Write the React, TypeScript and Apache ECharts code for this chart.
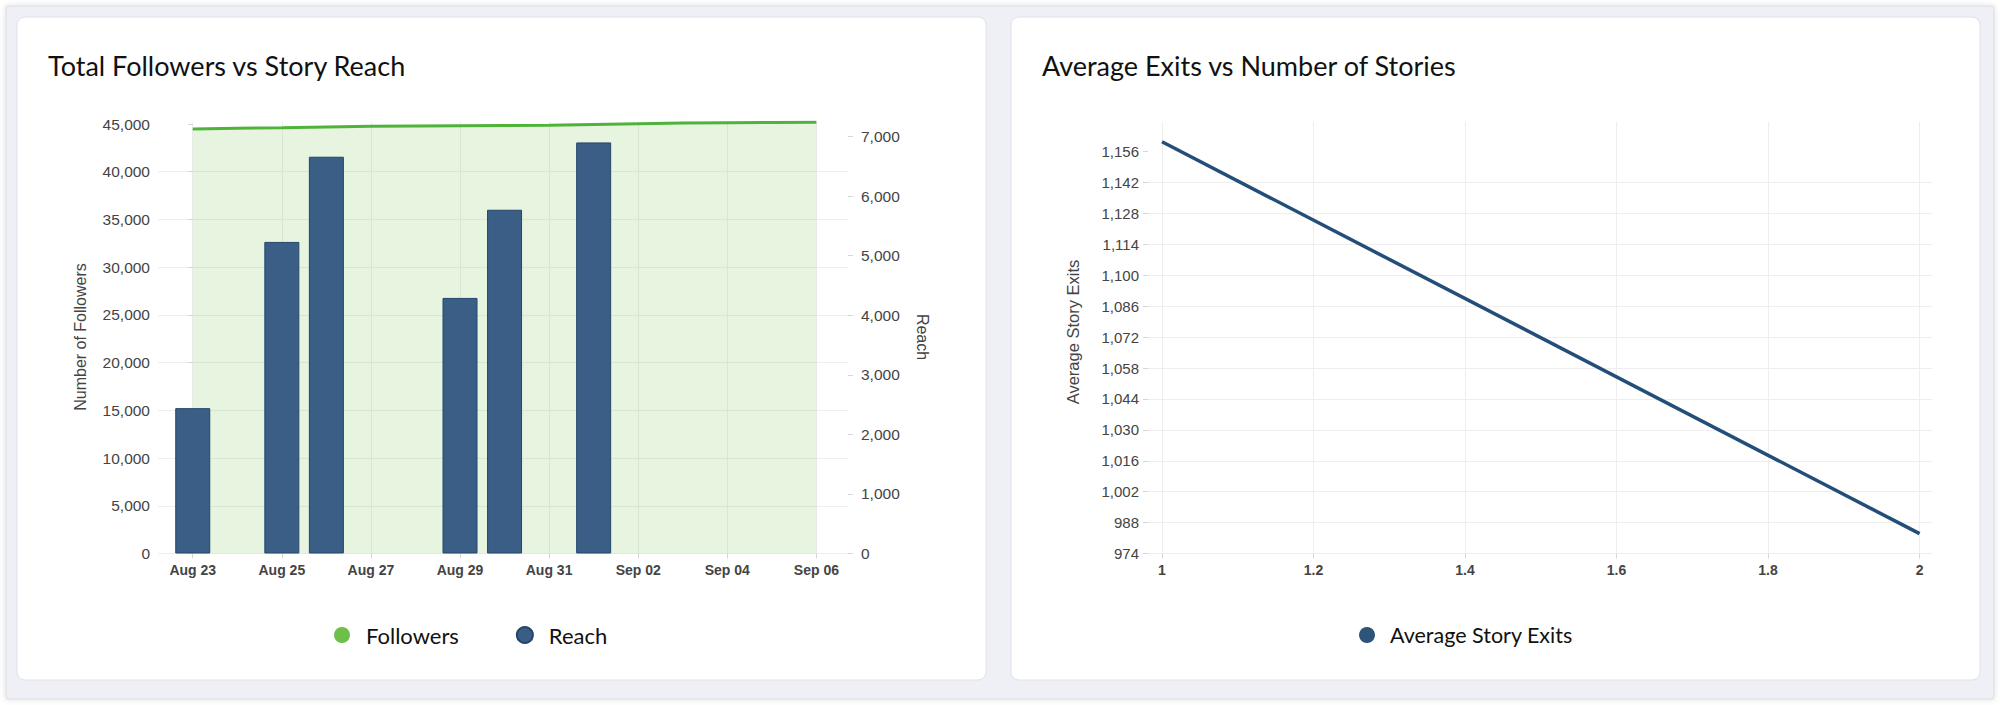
import React, { useEffect, useRef } from 'react';
import * as echarts from 'echarts';

// ---- Data ----
const dayLabels = ['Aug 23', 'Aug 24', 'Aug 25', 'Aug 26', 'Aug 27', 'Aug 28', 'Aug 29', 'Aug 30', 'Aug 31', 'Sep 01', 'Sep 02', 'Sep 03', 'Sep 04', 'Sep 05', 'Sep 06'];
const followers = [44480, 44550, 44610, 44690, 44760, 44790, 44820, 44840, 44860, 44950, 45030, 45100, 45140, 45160, 45180];
const reach: (number | null)[] = [2440, null, 5230, 6660, null, null, 4290, 5770, null, 6900, null, null, null, null, null];
const dateTicks = [0, 2, 4, 6, 8, 10, 12, 14];
const followerTicks = [0, 5000, 10000, 15000, 20000, 25000, 30000, 35000, 40000, 45000];
const reachTicks = [0, 1000, 2000, 3000, 4000, 5000, 6000, 7000];

const storyCounts = [1, 2];
const avgExits = [1160.5, 983];
const storyTicks = [1, 1.2, 1.4, 1.6, 1.8, 2];
const exitTicks = [974, 988, 1002, 1016, 1030, 1044, 1058, 1072, 1086, 1100, 1114, 1128, 1142, 1156];

const GRID = '#efeded';
const TICK = '#d6d6d6';
const LABEL = '#444444';
const SANS = '"Liberation Sans", Arial, Helvetica, sans-serif';
const LATO = 'Lato, "Noto Sans", sans-serif';

const fmt = (v: number) => Math.round(v).toLocaleString('en-US');

export default function App() {
  const ref = useRef<HTMLDivElement>(null);
  useEffect(() => {
    if (!ref.current) return;
    const chart = echarts.init(ref.current, undefined, { renderer: 'svg' });

    const followerData = followers.map((v, i) => [i, v]);
    const reachData = reach
      .map((v, i) => (v == null ? null : [i, v]))
      .filter((d) => d !== null);
    const exitData = storyCounts.map((c, i) => [c, avgExits[i]]);

    const option: any = {
      animation: false,
      backgroundColor: '#ffffff',
      textStyle: { fontFamily: SANS },
      graphic: [
        {
          type: 'rect', z: -20, silent: true,
          shape: { x: 6, y: 6, width: 1988, height: 693, r: 2 },
          style: { fill: '#eef0f5', stroke: '#d9dce2', lineWidth: 1, shadowBlur: 6, shadowColor: 'rgba(0,0,0,0.12)' },
        },
        {
          type: 'rect', z: -10, silent: true,
          shape: { x: 17, y: 17, width: 969, height: 663, r: 8 },
          style: { fill: '#ffffff', stroke: '#dfe2e8', lineWidth: 1 },
        },
        {
          type: 'rect', z: -10, silent: true,
          shape: { x: 1011, y: 17, width: 969, height: 663, r: 8 },
          style: { fill: '#ffffff', stroke: '#dfe2e8', lineWidth: 1 },
        },
        {
          type: 'text', z: 10, x: 48, y: 65,
          style: { text: 'Total Followers vs Story Reach', fontFamily: LATO, fontSize: 27, fill: '#111111', align: 'left', verticalAlign: 'middle' },
        },
        {
          type: 'text', z: 10, x: 1042, y: 65,
          style: { text: 'Average Exits vs Number of Stories', fontFamily: LATO, fontSize: 27, fill: '#111111', align: 'left', verticalAlign: 'middle' },
        },
        {
          type: 'text', z: 10, x: 80, y: 337, rotation: Math.PI / 2,
          style: { text: 'Number of Followers', fontFamily: SANS, fontSize: 16, fill: LABEL, align: 'center', verticalAlign: 'middle' },
        },
        {
          type: 'text', z: 10, x: 922, y: 337, rotation: -Math.PI / 2,
          style: { text: 'Reach', fontFamily: SANS, fontSize: 16, fill: LABEL, align: 'center', verticalAlign: 'middle' },
        },
        {
          type: 'text', z: 10, x: 1073, y: 332, rotation: Math.PI / 2,
          style: { text: 'Average Story Exits', fontFamily: SANS, fontSize: 16.5, fill: LABEL, align: 'center', verticalAlign: 'middle' },
        },
      ],
      legend: [
        {
          left: 329, top: 619, padding: 5,
          icon: 'circle', itemWidth: 16, itemHeight: 16, itemGap: 57,
          textStyle: { fontFamily: LATO, fontSize: 22, color: '#111111', padding: [0, 0, 0, 11] },
          data: [
            { name: 'Followers', itemStyle: { color: '#6cc04a' } },
            { name: 'Reach', itemStyle: { color: '#3b5d84' } },
          ],
        },
        {
          left: 1354, top: 619, padding: 5,
          icon: 'circle', itemWidth: 16, itemHeight: 16,
          textStyle: { fontFamily: LATO, fontSize: 21.5, color: '#111111', padding: [0, 0, 0, 10] },
          data: [{ name: 'Average Story Exits', itemStyle: { color: '#2f5479' } }],
        },
      ],
      grid: [
        { left: 158, top: 121.7, width: 690, height: 431.8, containLabel: false },
        { left: 1148, top: 121.7, width: 784, height: 431.8, containLabel: false },
      ],
      xAxis: [
        {
          type: 'value', gridIndex: 0, min: -0.78, max: 14.71,
          axisLine: { show: false },
          axisTick: { show: true, length: 5, lineStyle: { color: TICK }, customValues: dateTicks },
          axisLabel: {
            customValues: dateTicks, margin: 9, fontSize: 14, fontWeight: 'bold', color: LABEL, fontFamily: SANS,
            formatter: (v: number) => dayLabels[Math.round(v)] ?? '',
          },
          splitLine: { show: true, lineStyle: { color: GRID, width: 1 } },
        },
        {
          type: 'value', gridIndex: 1, min: 0.9815, max: 2.0164,
          axisLine: { show: false },
          axisTick: { show: true, length: 5, lineStyle: { color: TICK }, customValues: storyTicks },
          axisLabel: {
            customValues: storyTicks, margin: 9, fontSize: 14, fontWeight: 'bold', color: LABEL, fontFamily: SANS,
            formatter: (v: number) => String(Math.round(v * 10) / 10),
          },
          splitLine: { show: true, lineStyle: { color: GRID, width: 1 } },
        },
      ],
      yAxis: [
        {
          type: 'value', gridIndex: 0, min: 0, max: 45241, interval: 5000,
          axisLine: { show: false },
          axisTick: { show: true, length: 5, lineStyle: { color: TICK }, customValues: followerTicks },
          axisLabel: { customValues: followerTicks, margin: 8, fontSize: 15.5, color: LABEL, fontFamily: SANS, formatter: fmt },
          splitLine: { show: true, showMaxLine: false, lineStyle: { color: GRID, width: 1 } },
        },
        {
          type: 'value', gridIndex: 0, position: 'right', min: 0, max: 7248, interval: 1000,
          axisLine: { show: false },
          axisTick: { show: true, length: 5, lineStyle: { color: TICK }, customValues: reachTicks },
          axisLabel: { customValues: reachTicks, margin: 13, fontSize: 15.5, color: LABEL, fontFamily: SANS, formatter: fmt },
          splitLine: { show: false },
        },
        {
          type: 'value', gridIndex: 1, min: 974, max: 1169.6, interval: 14,
          axisLine: { show: false },
          axisTick: { show: true, length: 5, lineStyle: { color: TICK }, customValues: exitTicks },
          axisLabel: { customValues: exitTicks, margin: 9, fontSize: 15, color: LABEL, fontFamily: SANS, formatter: fmt },
          splitLine: { show: true, showMaxLine: false, lineStyle: { color: GRID, width: 1 } },
        },
      ],
      series: [
        {
          name: 'Followers', type: 'line', xAxisIndex: 0, yAxisIndex: 0,
          data: followerData, symbol: 'none', smooth: false,
          lineStyle: { color: '#4fb33a', width: 3 },
          itemStyle: { color: '#6cc04a' },
          areaStyle: { color: 'rgba(108,192,74,0.24)', origin: 'start' },
          z: 1,
        },
        {
          name: 'Reach', type: 'bar', xAxisIndex: 0, yAxisIndex: 1,
          data: reachData, barWidth: 35,
          itemStyle: { color: '#3a5e85', borderColor: '#23466d', borderWidth: 1 },
          z: 3,
        },
        {
          name: 'Average Story Exits', type: 'line', xAxisIndex: 1, yAxisIndex: 2,
          data: exitData, symbol: 'none',
          lineStyle: { color: '#234e79', width: 3.5 },
          itemStyle: { color: '#2f5479' },
          z: 3,
        },
      ],
    };

    chart.setOption(option);
    return () => chart.dispose();
  }, []);

  return (
    <div
      ref={ref}
      style={{ position: 'fixed', left: 0, top: 0, width: 2000, height: 705 }}
    />
  );
}
